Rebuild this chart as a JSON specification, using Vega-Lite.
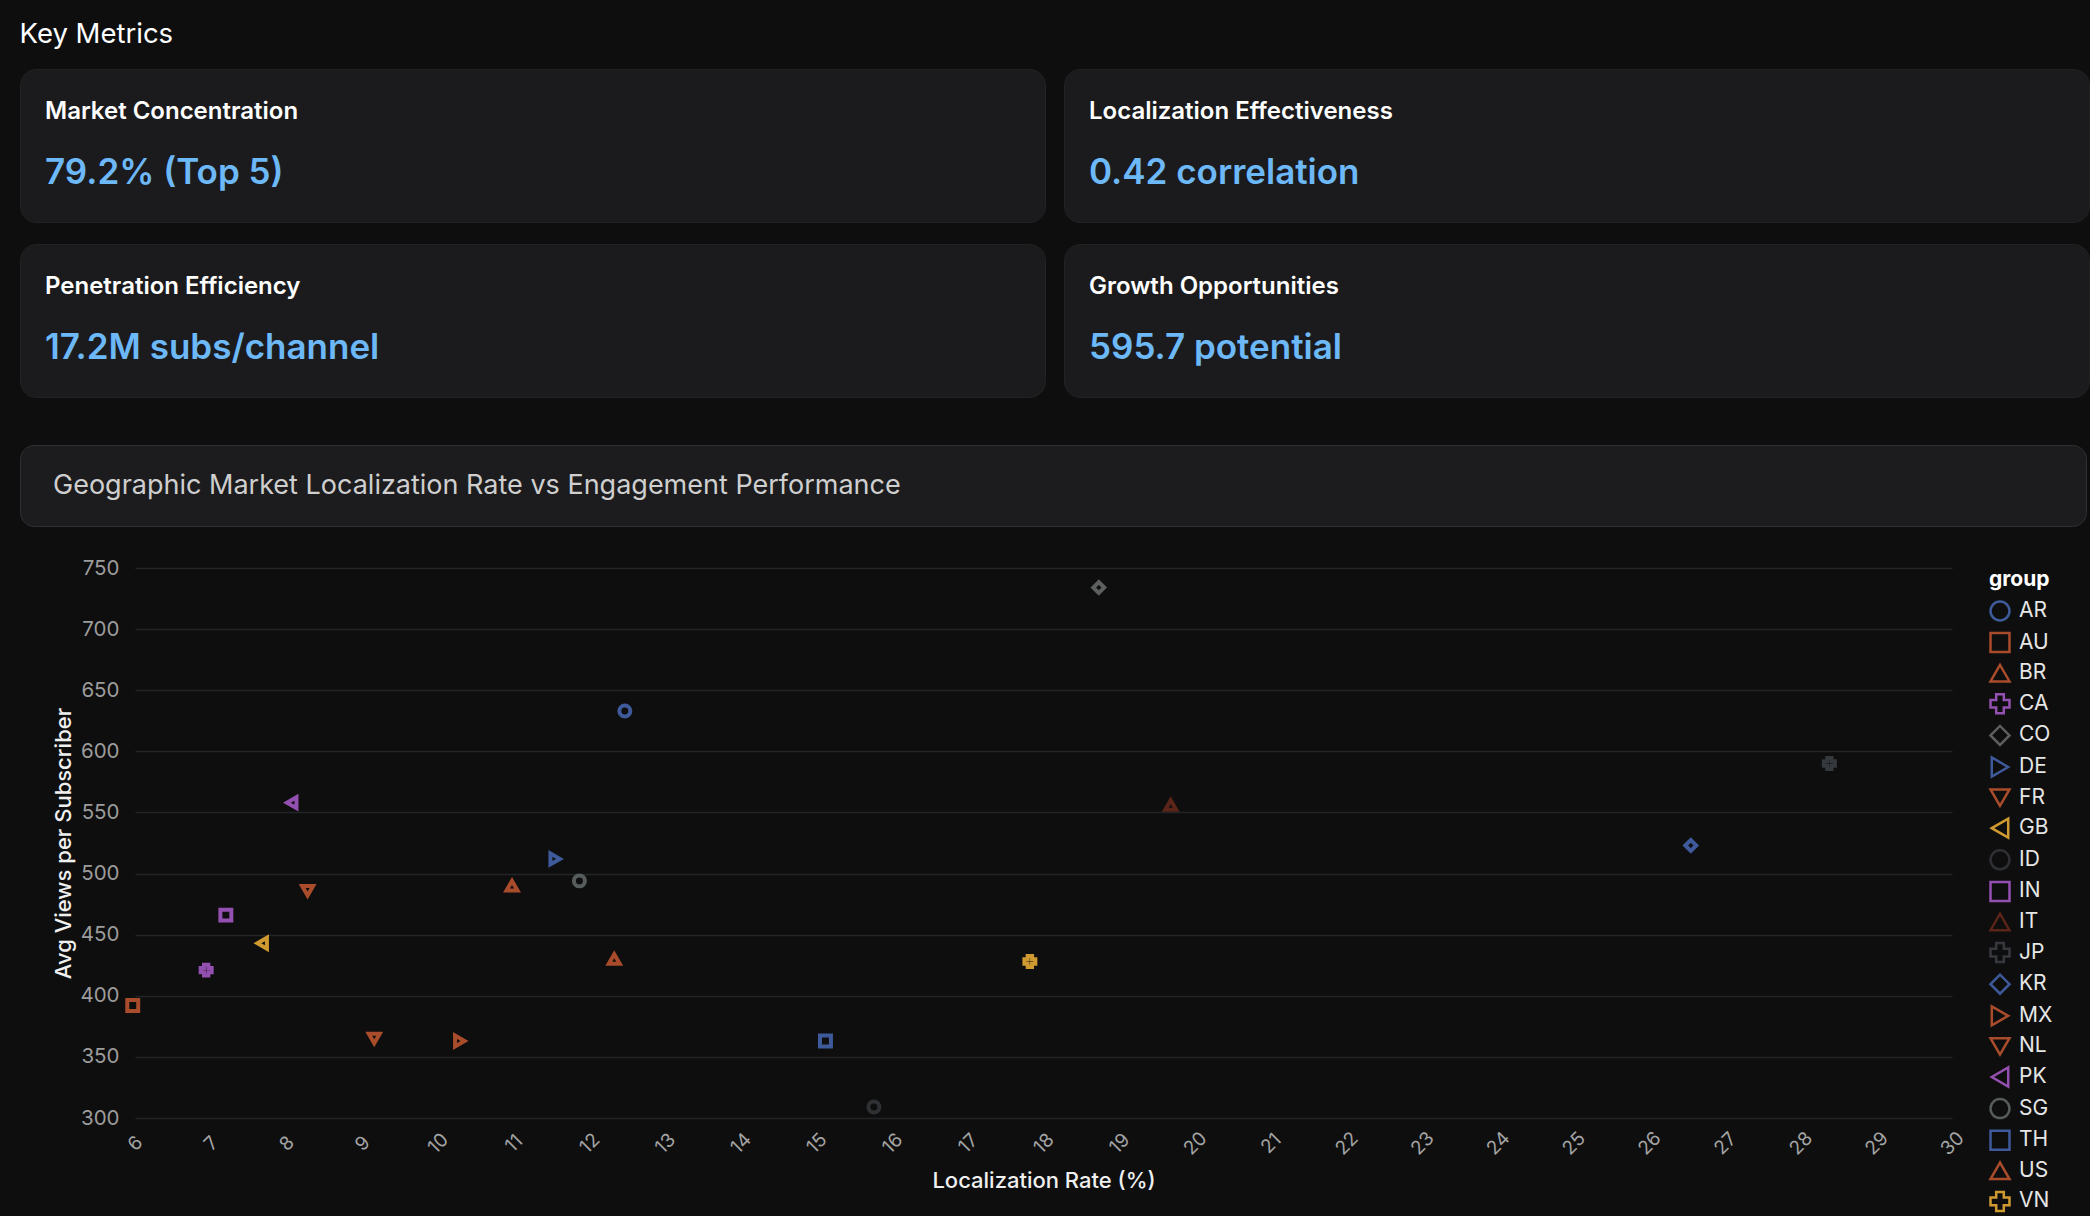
{
  "$schema": "https://vega.github.io/schema/vega-lite/v6.json",
  "background": "#0e0e0e",
  "padding": {"left": 19, "top": 21, "right": 0, "bottom": 0},
  "title": {"text": "Key Metrics", "anchor": "start", "fontSize": 27.5, "fontWeight": 400, "color": "#ffffff", "font": "Inter", "offset": 20},
  "config": {
    "font": "Inter",
    "view": {"stroke": null}
  },
  "spacing": 46,
  "vconcat": [
    {
      "spacing": 20,
      "vconcat": [
        {
          "spacing": 17,
          "hconcat": [
            {
              "width": 1025, "height": 153,
              "view": {"fill": "#1b1b1d", "stroke": "#222224", "cornerRadius": 16},
              "data": {"values": [{"kind": "label", "text": "Market Concentration"}, {"kind": "value", "text": "79.2% (Top 5)"}]},
              "encoding": {
                "x": {"datum": 0, "type": "quantitative", "scale": {"domain": [0, 1]}, "axis": null},
                "y": {"field": "kind", "type": "nominal", "scale": {"type": "point", "domain": ["label", "value"], "padding": 0.767}, "axis": null}
              },
              "layer": [
                {"transform": [{"filter": "datum.kind === 'label'"}], "mark": {"type": "text", "align": "left", "baseline": "middle", "dx": 25, "dy": -3, "fontSize": 24, "fontWeight": 600, "color": "#ffffff", "font": "Inter"}, "encoding": {"text": {"field": "text"}}},
                {"transform": [{"filter": "datum.kind === 'value'"}], "mark": {"type": "text", "align": "left", "baseline": "middle", "dx": 25, "dy": -3, "fontSize": 35, "fontWeight": 600, "color": "#6db8f7", "font": "Inter"}, "encoding": {"text": {"field": "text"}}}
              ]
            },
            {
              "width": 1025, "height": 153,
              "view": {"fill": "#1b1b1d", "stroke": "#222224", "cornerRadius": 16},
              "data": {"values": [{"kind": "label", "text": "Localization Effectiveness"}, {"kind": "value", "text": "0.42 correlation"}]},
              "encoding": {
                "x": {"datum": 0, "type": "quantitative", "scale": {"domain": [0, 1]}, "axis": null},
                "y": {"field": "kind", "type": "nominal", "scale": {"type": "point", "domain": ["label", "value"], "padding": 0.767}, "axis": null}
              },
              "layer": [
                {"transform": [{"filter": "datum.kind === 'label'"}], "mark": {"type": "text", "align": "left", "baseline": "middle", "dx": 25, "dy": -3, "fontSize": 24, "fontWeight": 600, "color": "#ffffff", "font": "Inter"}, "encoding": {"text": {"field": "text"}}},
                {"transform": [{"filter": "datum.kind === 'value'"}], "mark": {"type": "text", "align": "left", "baseline": "middle", "dx": 25, "dy": -3, "fontSize": 35, "fontWeight": 600, "color": "#6db8f7", "font": "Inter"}, "encoding": {"text": {"field": "text"}}}
              ]
            }
          ]
        },
        {
          "spacing": 17,
          "hconcat": [
            {
              "width": 1025, "height": 153,
              "view": {"fill": "#1b1b1d", "stroke": "#222224", "cornerRadius": 16},
              "data": {"values": [{"kind": "label", "text": "Penetration Efficiency"}, {"kind": "value", "text": "17.2M subs/channel"}]},
              "encoding": {
                "x": {"datum": 0, "type": "quantitative", "scale": {"domain": [0, 1]}, "axis": null},
                "y": {"field": "kind", "type": "nominal", "scale": {"type": "point", "domain": ["label", "value"], "padding": 0.767}, "axis": null}
              },
              "layer": [
                {"transform": [{"filter": "datum.kind === 'label'"}], "mark": {"type": "text", "align": "left", "baseline": "middle", "dx": 25, "dy": -3, "fontSize": 24, "fontWeight": 600, "color": "#ffffff", "font": "Inter"}, "encoding": {"text": {"field": "text"}}},
                {"transform": [{"filter": "datum.kind === 'value'"}], "mark": {"type": "text", "align": "left", "baseline": "middle", "dx": 25, "dy": -3, "fontSize": 35, "fontWeight": 600, "color": "#6db8f7", "font": "Inter"}, "encoding": {"text": {"field": "text"}}}
              ]
            },
            {
              "width": 1025, "height": 153,
              "view": {"fill": "#1b1b1d", "stroke": "#222224", "cornerRadius": 16},
              "data": {"values": [{"kind": "label", "text": "Growth Opportunities"}, {"kind": "value", "text": "595.7 potential"}]},
              "encoding": {
                "x": {"datum": 0, "type": "quantitative", "scale": {"domain": [0, 1]}, "axis": null},
                "y": {"field": "kind", "type": "nominal", "scale": {"type": "point", "domain": ["label", "value"], "padding": 0.767}, "axis": null}
              },
              "layer": [
                {"transform": [{"filter": "datum.kind === 'label'"}], "mark": {"type": "text", "align": "left", "baseline": "middle", "dx": 25, "dy": -3, "fontSize": 24, "fontWeight": 600, "color": "#ffffff", "font": "Inter"}, "encoding": {"text": {"field": "text"}}},
                {"transform": [{"filter": "datum.kind === 'value'"}], "mark": {"type": "text", "align": "left", "baseline": "middle", "dx": 25, "dy": -3, "fontSize": 35, "fontWeight": 600, "color": "#6db8f7", "font": "Inter"}, "encoding": {"text": {"field": "text"}}}
              ]
            }
          ]
        }
      ]
    },
    {
      "spacing": 31,
      "vconcat": [
        {
          "width": 2066,
          "height": 81,
          "view": {"fill": "#1c1c1e", "stroke": "#2e3034", "cornerRadius": 14},
          "data": {"values": [{"title": "Geographic Market Localization Rate vs Engagement Performance"}]},
          "mark": {"type": "text", "align": "left", "baseline": "middle", "dx": 33, "fontSize": 27, "fontWeight": 400, "color": "#cfcfcf", "font": "Inter"},
          "encoding": {
            "text": {"field": "title"},
            "x": {"datum": 0, "type": "quantitative", "scale": {"domain": [0, 1]}, "axis": null}
          }
        },
        {
          "spacing": 31,
          "hconcat": [
            {
              "width": 1,
              "height": 10,
              "data": {"values": []},
              "mark": "text",
              "view": {"stroke": null}
            },
            {
              "width": 1817,
              "height": 550,
              "data": {"values": [
                {"group": "AR", "loc": 12.47, "views": 633},
                {"group": "AU", "loc": 5.97, "views": 392},
                {"group": "BR", "loc": 10.98, "views": 490},
                {"group": "CA", "loc": 6.94, "views": 421},
                {"group": "CO", "loc": 18.73, "views": 734},
                {"group": "DE", "loc": 11.55, "views": 512},
                {"group": "FR", "loc": 8.28, "views": 486},
                {"group": "GB", "loc": 7.68, "views": 443},
                {"group": "ID", "loc": 15.76, "views": 309},
                {"group": "IN", "loc": 7.2, "views": 466},
                {"group": "IT", "loc": 19.68, "views": 556},
                {"group": "JP", "loc": 28.38, "views": 590},
                {"group": "KR", "loc": 26.55, "views": 523},
                {"group": "MX", "loc": 10.29, "views": 363},
                {"group": "NL", "loc": 9.16, "views": 365},
                {"group": "PK", "loc": 8.07, "views": 558},
                {"group": "SG", "loc": 11.87, "views": 494},
                {"group": "TH", "loc": 15.12, "views": 363},
                {"group": "US", "loc": 12.33, "views": 430},
                {"group": "VN", "loc": 17.82, "views": 428}
              ]},
              "mark": {"type": "point", "filled": false, "size": 120, "strokeWidth": 4, "opacity": 1},
              "encoding": {
                "x": {
                  "field": "loc", "type": "quantitative",
                  "scale": {"domain": [6, 30], "nice": false, "zero": false},
                  "axis": {
                    "title": "Localization Rate (%)",
                    "values": [6,7,8,9,10,11,12,13,14,15,16,17,18,19,20,21,22,23,24,25,26,27,28,29,30],
                    "labelAngle": -45, "labelAlign": "center", "labelBaseline": "middle",
                    "labelPadding": 25, "labelFontSize": 19, "labelColor": "#a3a3a3",
                    "grid": false, "domain": false, "ticks": false,
                    "titleFontSize": 22, "titleFontWeight": 500, "titleColor": "#f0f0f0", "titlePadding": 12
                  }
                },
                "y": {
                  "field": "views", "type": "quantitative",
                  "scale": {"domain": [300, 750], "nice": false, "zero": false},
                  "axis": {
                    "title": "Avg Views per Subscriber",
                    "values": [300,350,400,450,500,550,600,650,700,750],
                    "grid": true, "gridColor": "#232427", "gridWidth": 1.5,
                    "domain": false, "ticks": false,
                    "labelPadding": 16, "labelFontSize": 20.5, "labelColor": "#9c9c9c",
                    "titleFontSize": 22, "titleFontWeight": 500, "titleColor": "#f0f0f0", "titlePadding": 4
                  }
                },
                "color": {
                  "field": "group", "type": "nominal",
                  "scale": {
                    "domain": ["AR","AU","BR","CA","CO","DE","FR","GB","ID","IN","IT","JP","KR","MX","NL","PK","SG","TH","US","VN"],
                    "range": ["#3f5a9a","#a94c2b","#a94c2b","#9450b0","#5c5f5e","#3f5a9a","#a94c2b","#cf9a30","#2e3033","#9450b0","#5a2418","#35383c","#3f5a9a","#a94c2b","#a94c2b","#9450b0","#565b5b","#3f5a9a","#a94c2b","#cf9a30"]
                  },
                  "legend": {
                    "title": "group", "titleFontSize": 21, "titleFontWeight": 700, "titleColor": "#ffffff", "titlePadding": 10,
                    "labelFontSize": 21, "labelColor": "#e6e6e6", "labelOffset": 8,
                    "symbolSize": 360, "symbolStrokeWidth": 2.5, "rowPadding": 1.6,
                    "orient": "none", "legendX": 1969, "legendY": 500
                  }
                },
                "shape": {
                  "field": "group", "type": "nominal",
                  "scale": {
                    "domain": ["AR","AU","BR","CA","CO","DE","FR","GB","ID","IN","IT","JP","KR","MX","NL","PK","SG","TH","US","VN"],
                    "range": ["circle","square","triangle-up","cross","diamond","triangle-right","triangle-down","triangle-left","circle","square","triangle-up","cross","diamond","triangle-right","triangle-down","triangle-left","circle","square","triangle-up","cross"]
                  }
                }
              }
            }
          ]
        }
      ]
    }
  ]
}
